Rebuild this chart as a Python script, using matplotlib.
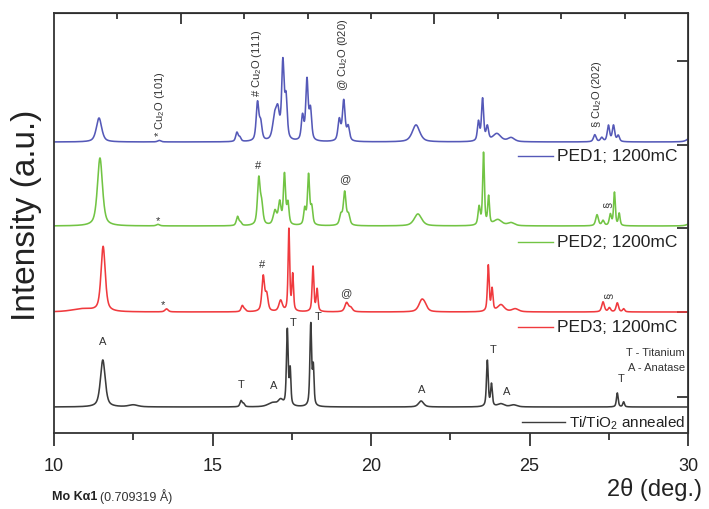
import numpy as np
import matplotlib
matplotlib.use("Agg")
import matplotlib.pyplot as plt
from matplotlib.ticker import FixedLocator, NullFormatter

plt.rcParams['font.family'] = ['Liberation Sans', 'DejaVu Sans']
plt.rcParams['mathtext.fontset'] = 'custom'
plt.rcParams['mathtext.rm'] = 'Liberation Sans'
plt.rcParams['mathtext.it'] = 'Liberation Sans:italic'
plt.rcParams['mathtext.default'] = 'regular'

# ---------------- data (peak tables) ----------------
series_names = ["PED1; 1200mC", "PED2; 1200mC", "PED3; 1200mC", "Ti/TiO$_2$ annealed"]
series_colors = ["#5559b8", "#72c444", "#f03a3e", "#3c3c3c"]
series_offsets = [291, 207, 121, 26]

ped1_pos = [11.42, 13.32, 15.77, 15.86, 16.42, 16.52, 16.96, 17.06, 17.22, 17.32,
            17.84, 17.98, 18.09, 19.00, 19.14, 19.28, 21.42, 23.39, 23.52, 23.67,
            23.97, 24.42, 27.06, 27.28, 27.49, 27.65, 27.80, 30.10]
ped1_h = [24, 1.5, 9, 4, 38, 17, 22, 26, 76, 40,
          24, 60, 30, 21, 40, 14, 17, 19, 42, 14,
          8, 4, 7, 4, 16, 16, 6, 5]
ped1_w = [0.20, 0.12, 0.09, 0.09, 0.10, 0.10, 0.15, 0.13, 0.09, 0.09,
          0.09, 0.09, 0.09, 0.10, 0.10, 0.10, 0.28, 0.08, 0.08, 0.09,
          0.30, 0.25, 0.10, 0.10, 0.09, 0.09, 0.09, 0.25]

ped2_pos = [11.45, 13.28, 15.79, 15.88, 16.46, 16.55, 16.97, 17.12, 17.27, 17.38,
            17.91, 18.03, 18.13, 19.05, 19.17, 19.29, 21.48, 23.41, 23.55, 23.71,
            24.00, 24.42, 27.13, 27.32, 27.55, 27.68, 27.83, 30.10]
ped2_h = [68, 1.5, 9, 3, 46, 19, 14, 22, 50, 21,
          16, 50, 17, 10, 33, 10, 12, 18, 72, 28,
          6, 3, 11, 5, 11, 33, 12, 3]
ped2_w = [0.19, 0.12, 0.09, 0.09, 0.10, 0.10, 0.13, 0.10, 0.08, 0.08,
          0.08, 0.08, 0.08, 0.10, 0.10, 0.10, 0.28, 0.08, 0.065, 0.065,
          0.30, 0.25, 0.10, 0.09, 0.08, 0.065, 0.065, 0.25]

ped3_pos = [10.90, 11.55, 13.55, 15.94, 16.02, 16.60, 16.71, 17.15, 17.41, 17.53,
            18.17, 18.30, 19.23, 19.36, 21.60, 21.70, 23.70, 23.82, 24.10, 24.55,
            27.32, 27.52, 27.77, 27.97]
ped3_h = [3, 65, 3, 6, 2, 35, 16, 11, 82, 36,
          45, 22, 9, 4, 11, 4, 46, 22, 7, 3,
          10, 4, 9, 3]
ped3_w = [0.80, 0.16, 0.12, 0.09, 0.09, 0.10, 0.10, 0.13, 0.06, 0.06,
          0.065, 0.065, 0.13, 0.13, 0.22, 0.18, 0.065, 0.065, 0.25, 0.25,
          0.10, 0.09, 0.09, 0.08]

ti_pos = [11.54, 12.50, 15.90, 15.98, 16.90, 17.15, 17.36, 17.45, 18.10, 18.18,
          21.58, 23.67, 23.80, 24.10, 24.50, 27.77, 27.97]
ti_h = [47, 2, 6, 3, 4, 6, 76, 35, 82, 37,
        6, 46, 22, 3, 2, 14, 5]
ti_w = [0.18, 0.35, 0.08, 0.08, 0.35, 0.18, 0.065, 0.055, 0.065, 0.055,
        0.19, 0.065, 0.065, 0.25, 0.25, 0.065, 0.065]

peak_tables = [(ped1_pos, ped1_h, ped1_w), (ped2_pos, ped2_h, ped2_w),
               (ped3_pos, ped3_h, ped3_w), (ti_pos, ti_h, ti_w)]

# annotations
ped1_notes = [("* Cu$_2$O (101)", 13.33, 297), ("# Cu$_2$O (111)", 16.40, 337),
              ("@ Cu$_2$O (020)", 19.13, 343), ("§ Cu$_2$O (202)", 27.12, 306)]
ped2_marks = [("*", 13.28, 213, 0), ("#", 16.45, 268, 0), ("@", 19.17, 255, 0), ("§", 27.45, 229, 90)]
ped3_marks = [("*", 13.45, 129, 0), ("#", 16.55, 169, 0), ("@", 19.22, 141, 0), ("§", 27.50, 138, 90)]
ti_marks = [("A", 11.54, 87), ("T", 15.90, 44), ("A", 16.93, 43), ("T", 17.53, 106),
            ("T", 18.33, 112), ("A", 21.60, 39), ("T", 23.84, 79), ("A", 24.29, 37), ("T", 27.88, 50)]
legend_y = [277, 191, 106, 11]

x_major = [10, 15, 20, 25, 30]
x_minor = [12.5, 17.5, 22.5, 27.5]
top_major = [14, 22]
top_minor = [12, 16, 18, 20, 24, 26, 28]
right_ticks = [372, 288, 205, 121, 36]


def pvoigt(x, x0, h, w, eta=0.6):
    d = (x - x0) / w
    return h * (eta / (1 + 4 * d * d) + (1 - eta) * np.exp(-4 * np.log(2) * d * d))


# ---------------- figure ----------------
fig = plt.figure(figsize=(7.09, 5.10), dpi=100)
ax = fig.add_axes([54 / 709, 76 / 510, 634 / 709, 420 / 510])
ax.set_xlim(10, 30)
ax.set_ylim(0, 420)

x = np.linspace(10, 30, 5000)
for (pos, h, w), off, col in zip(peak_tables, series_offsets, series_colors):
    y = np.full_like(x, float(off))
    for p, hh, ww in zip(pos, h, w):
        y += pvoigt(x, p, hh, ww)
    ax.plot(x, y, color=col, lw=1.15)

# legends (one per curve)
for name, col, ly, i in zip(series_names, series_colors, legend_y, range(4)):
    if i < 3:
        x0, x1, xt, fs = 24.64, 25.74, 25.87, 12.5
    else:
        x0, x1, xt, fs = 24.76, 26.12, 26.25, 11
    ax.plot([x0, x1], [ly, ly], color=col, lw=1.0)
    ax.text(xt, ly, name, fontsize=fs, va='center', ha='left', color='#222222')

for t, xx, yy in ped1_notes:
    ax.text(xx, yy, t, rotation=90, fontsize=8, ha='center', va='bottom', color='#333333')
for t, xx, yy, r in ped2_marks + ped3_marks:
    ax.text(xx, yy, t, rotation=r, fontsize=8, ha='center', va='center', color='#333333')
for t, xx, yy in ti_marks:
    ax.text(xx, yy, t, fontsize=8, ha='center', va='bottom', color='#333333')

ax.text(29.9, 81, "T - Titanium", fontsize=8, ha='right', va='center', color='#333333')
ax.text(29.9, 66, "A - Anatase", fontsize=8, ha='right', va='center', color='#333333')

# axes styling
for s in ax.spines.values():
    s.set_linewidth(1.3)
    s.set_color('#333333')
ax.xaxis.set_major_locator(FixedLocator(x_major))
ax.xaxis.set_minor_locator(FixedLocator(x_minor))
ax.tick_params(axis='x', which='major', direction='out', length=9, width=1.3,
               labelsize=13, pad=8, colors='#333333', labelcolor='#222222')
ax.tick_params(axis='x', which='minor', direction='out', length=5, width=1.3, colors='#333333')
ax.set_yticks([])

sec = ax.secondary_xaxis('top')
sec.xaxis.set_major_locator(FixedLocator(top_major))
sec.xaxis.set_minor_locator(FixedLocator(top_minor))
sec.xaxis.set_major_formatter(NullFormatter())
sec.tick_params(axis='x', which='major', direction='in', length=8, width=1.3, colors='#333333')
sec.tick_params(axis='x', which='minor', direction='in', length=4, width=1.3, colors='#333333')

secy = ax.secondary_yaxis('right')
secy.yaxis.set_major_locator(FixedLocator(right_ticks))
secy.yaxis.set_major_formatter(NullFormatter())
secy.tick_params(axis='y', which='major', direction='in', length=8, width=1.3, colors='#333333')
secy.tick_params(axis='y', which='minor', length=0)

fig.text(27 / 709, 1 - 215 / 510, "Intensity (a.u.)", rotation=90, fontsize=24,
         ha='center', va='center', color='#222222')
fig.text(702 / 709, 1 - 490 / 510, "2θ (deg.)", fontsize=17, ha='right', va='center', color='#222222')
fig.text(52 / 709, 1 - 497 / 510, "Mo Kα1", fontsize=9, fontweight='bold', ha='left', va='center', color='#222222')
fig.text(100 / 709, 1 - 497 / 510, "(0.709319 Å)", fontsize=9, ha='left', va='center', color='#333333')

fig.savefig("out.png", dpi=100)
